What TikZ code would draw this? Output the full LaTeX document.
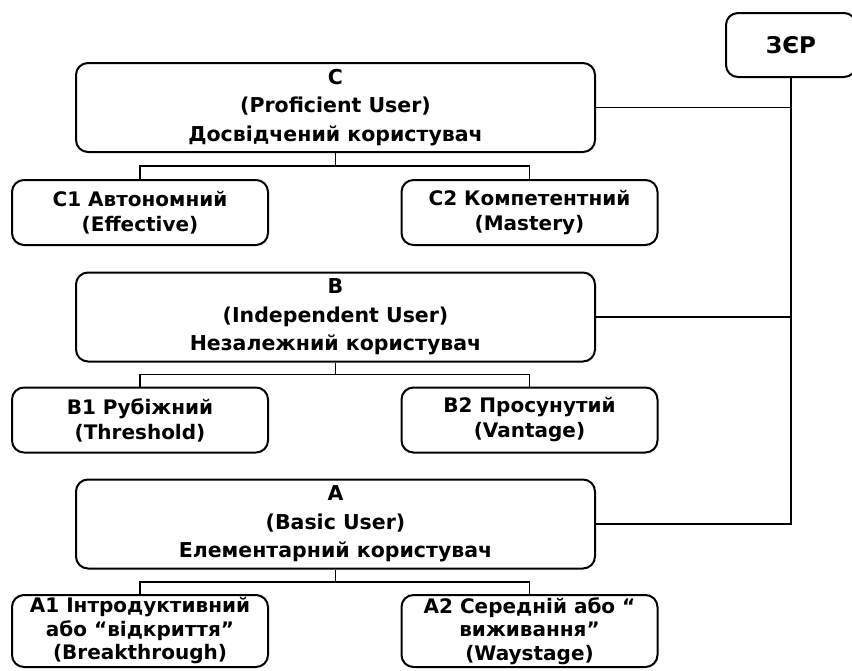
\documentclass[tikz,border=0pt]{standalone}
\usepackage{fontspec}
\setmainfont{DejaVu Sans}
\usetikzlibrary{calc}
\begin{document}
\begin{tikzpicture}[x=1pt,y=-1pt,
  box/.style={draw, line width=2pt, rounded corners=12pt, align=center, inner sep=0pt,
    font=\bfseries\fontsize{20.5}{28.5}\selectfont},
  big/.style={box, minimum width=519pt, minimum height=89pt},
  small/.style={box, minimum width=256pt, minimum height=65pt,
    font=\bfseries\fontsize{20}{25}\selectfont},
  tall/.style={small, minimum height=72pt, font=\bfseries\fontsize{20}{23.5}\selectfont},
  conn/.style={line width=1.8pt}]
\useasboundingbox (0,0) rectangle (852,670);

\node[big] (C) at (335.5,107.5) {C\\(Proficient User)\\Досвідчений користувач};
\node[small] (C1) at (140,212.5) {C1 Автономний\\(Effective)};
\node[small] (C2) at (529.5,212.5) {C2 Компетентний\\(Mastery)};

\node[big] (B) at (335.5,317) {B\\(Independent User)\\Незалежний користувач};
\node[small] (B1) at (140,420) {B1 Рубіжний\\(Threshold)};
\node[small] (B2) at (529.5,420) {B2 Просунутий\\(Vantage)};

\node[big] (A) at (335.5,524) {A\\(Basic User)\\Елементарний користувач};
\node[tall] (A1) at (140,631) {A1 Інтродуктивний\\або “відкриття”\\(Breakthrough)};
\node[tall] (A2) at (529.5,631) {A2 Середній або “\\виживання”\\(Waystage)};

\node[box, minimum width=130pt, minimum height=64pt, font=\bfseries\fontsize{23}{28}\selectfont] (Z) at (791,45) {ЗЄР};

% tree connectors
\path ($(C.south)!.5!(C1.north)$) coordinate (cy);
\draw[conn] (C.south) -- (C.south |- cy) -| (C1.north);
\draw[conn] (C.south |- cy) -| (C2.north);
\path ($(B.south)!.5!(B1.north)$) coordinate (by);
\draw[conn] (B.south) -- (B.south |- by) -| (B1.north);
\draw[conn] (B.south |- by) -| (B2.north);
\path ($(A.south)!.5!(A1.north)$) coordinate (ay);
\draw[conn] (A.south) -- (A.south |- ay) -| (A1.north);
\draw[conn] (A.south |- ay) -| (A2.north);

% ZER connectors
\draw[conn] (Z.south) |- (A.east);
\draw[conn] (C.east) -- (C.east -| Z.south);
\draw[conn] (B.east) -- (B.east -| Z.south);
\end{tikzpicture}
\end{document}
